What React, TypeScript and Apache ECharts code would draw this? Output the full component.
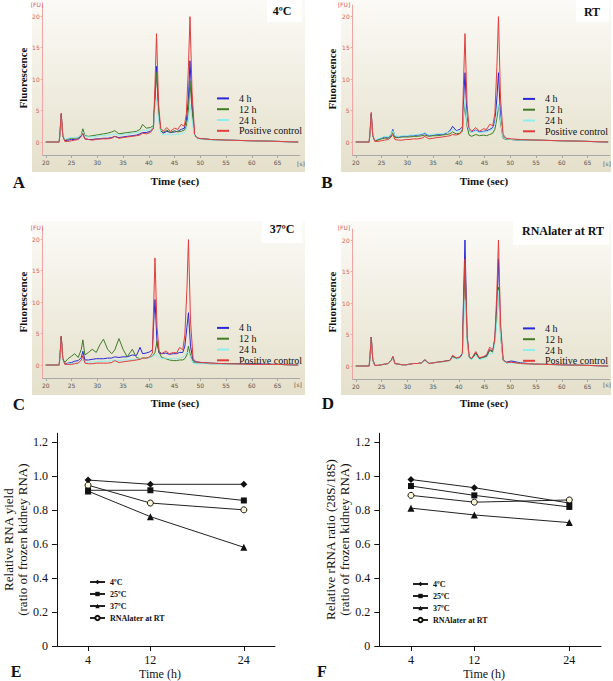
import React, { useEffect, useRef } from 'react';
import * as echarts from 'echarts';

// ---------- Electropherogram data (time in s, fluorescence in FU) ----------
const timeA = [20, 22.6, 22.8, 23.0, 23.3, 23.7, 24.3, 25.0, 25.6, 26.3, 26.9, 27.2, 27.6, 28.3, 29.0, 29.8, 30.5, 31.2, 32.0, 32.8, 33.4, 34.2, 35.0, 35.8, 36.8, 37.6, 38.3, 38.8, 39.5, 40.3, 40.9, 41.2, 41.5, 41.9, 42.3, 42.8, 43.5, 44.2, 45.0, 45.6, 46.3, 46.9, 47.3, 47.7, 48.0, 48.4, 48.9, 49.5, 50.5, 52, 55, 60, 65, 69];
const timeBCD = [20, 22.6, 22.8, 23.0, 23.3, 23.7, 24.3, 25.0, 25.6, 26.3, 26.9, 27.2, 27.6, 28.3, 29.0, 29.8, 30.5, 31.2, 32.0, 32.8, 33.4, 34.2, 35.0, 35.8, 36.8, 37.6, 38.3, 38.8, 39.5, 40.2, 40.7, 40.9, 41.2, 41.6, 42.0, 42.5, 43.3, 44.0, 44.8, 45.4, 46.0, 46.6, 47.0, 47.4, 47.7, 48.1, 48.6, 49.2, 50.2, 52, 55, 60, 65, 69];

// Panel A (4ºC)
const a4h = [0, 0, 1.9, 4.4, 1.0, 0.2, 0.3, 0.4, 0.4, 0.5, 1.0, 1.3, 0.5, 0.4, 0.4, 0.5, 0.5, 0.6, 0.6, 0.7, 0.9, 0.7, 0.8, 0.9, 1.0, 1.1, 1.3, 1.5, 1.5, 1.7, 2.2, 7, 12.0, 5, 1.8, 1.4, 1.7, 1.5, 1.6, 1.7, 2.0, 2.2, 3.5, 7, 12.9, 6, 1.0, 0.6, 0.5, 0.4, 0.3, 0.2, 0.1, 0];
const a12h = [0, 0, 1.8, 4.2, 1.0, 0.3, 0.5, 0.6, 0.6, 0.7, 1.2, 2.1, 1.0, 0.9, 1.0, 1.1, 1.2, 1.3, 1.4, 1.6, 1.8, 1.3, 1.4, 1.5, 1.6, 1.7, 2.0, 2.8, 2.2, 2.3, 2.6, 7, 11.0, 4.5, 1.8, 1.5, 1.9, 1.5, 1.8, 1.6, 1.7, 1.9, 2.5, 5, 9.7, 5, 1.0, 0.6, 0.5, 0.4, 0.3, 0.2, 0.1, 0];
const a24h = [0, 0, 1.6, 4.0, 1.0, 0.4, 0.6, 0.7, 0.7, 0.8, 1.1, 1.6, 0.9, 0.8, 0.8, 0.9, 1.0, 1.0, 1.1, 1.2, 1.3, 1.1, 1.2, 1.3, 1.4, 1.5, 1.6, 1.9, 1.8, 2.0, 2.4, 5, 7.0, 3.5, 1.5, 1.1, 1.3, 1.1, 1.2, 1.2, 1.3, 1.5, 2.0, 3.5, 6.0, 3.5, 0.9, 0.5, 0.4, 0.3, 0.3, 0.2, 0.1, 0];
const aPos = [0, 0, 2.0, 4.6, 1.0, 0.1, 0.1, 0.2, 0.3, 0.4, 0.9, 1.4, 0.5, 0.4, 0.3, 0.4, 0.5, 0.5, 0.5, 0.6, 0.9, 0.6, 0.7, 0.8, 0.9, 1.0, 1.1, 1.4, 1.3, 1.5, 2.2, 9, 17.2, 6, 2.2, 1.7, 2.3, 1.7, 2.2, 2.0, 2.8, 2.5, 4.5, 12, 19.9, 8, 1.2, 0.6, 0.5, 0.4, 0.3, 0.2, 0.1, 0];

// Panel B (RT)
const b4h = [0, 0, 1.9, 4.5, 1.0, 0.2, 0.4, 0.6, 0.8, 0.7, 1.3, 2.0, 0.8, 0.8, 0.9, 0.9, 1.0, 1.0, 1.1, 1.2, 1.4, 1.0, 1.1, 1.2, 1.2, 1.4, 1.8, 2.5, 1.8, 2.0, 2.4, 6, 11.0, 4, 1.8, 1.6, 1.9, 1.6, 1.7, 1.8, 2.0, 2.3, 3.3, 7, 11.0, 4, 0.8, 0.5, 0.4, 0.3, 0.3, 0.2, 0.1, 0];
const b12h = [0, 0, 1.8, 4.3, 1.0, 0.2, 0.3, 0.5, 0.6, 0.6, 1.0, 1.6, 0.7, 0.7, 0.8, 0.8, 0.8, 0.9, 0.9, 1.0, 1.1, 0.9, 1.0, 1.0, 1.1, 1.2, 1.3, 1.6, 1.3, 1.4, 1.7, 4, 6.0, 2.5, 1.1, 0.9, 1.2, 1.0, 1.1, 1.0, 1.2, 1.4, 2.0, 3.8, 5.8, 3, 0.6, 0.4, 0.4, 0.3, 0.3, 0.2, 0.1, 0];
const b24h = [0, 0, 1.7, 4.1, 1.0, 0.3, 0.5, 0.7, 0.9, 0.8, 1.3, 1.8, 1.0, 0.9, 1.0, 1.0, 1.1, 1.1, 1.2, 1.3, 1.5, 1.1, 1.2, 1.3, 1.3, 1.5, 1.6, 2.0, 1.7, 1.8, 2.2, 4.5, 6.8, 3, 1.8, 1.5, 1.8, 1.5, 1.6, 1.6, 1.8, 2.0, 2.8, 4.8, 6.0, 3.5, 0.7, 0.5, 0.4, 0.3, 0.3, 0.2, 0.1, 0];
const bPos = [0, 0, 2.0, 4.7, 1.0, 0.1, 0.1, 0.2, 0.3, 0.4, 0.8, 1.2, 0.4, 0.3, 0.3, 0.4, 0.4, 0.5, 0.5, 0.6, 0.9, 0.5, 0.6, 0.7, 0.8, 0.9, 1.0, 1.2, 1.1, 1.3, 2.0, 9, 17.2, 6, 2.2, 1.7, 2.3, 1.7, 2.1, 2.0, 2.8, 2.6, 4.5, 12, 19.9, 7, 1.2, 0.6, 0.5, 0.4, 0.3, 0.2, 0.1, 0];

// Panel C (37ºC)
const c4h = [0, 0, 1.9, 4.5, 1.0, 0.2, 0.3, 0.4, 0.6, 0.7, 1.2, 2.2, 0.8, 0.8, 0.9, 1.0, 1.0, 1.0, 1.1, 1.1, 1.3, 1.2, 1.3, 1.3, 1.6, 1.5, 2.8, 1.8, 1.9, 2.1, 2.4, 6, 10.4, 3.5, 1.9, 1.8, 1.9, 1.7, 1.8, 1.8, 2.0, 2.0, 3.0, 6, 8.3, 3, 0.7, 0.5, 0.4, 0.3, 0.2, 0.2, 0.1, 0];
const c12h = [0, 0, 1.9, 4.5, 1.0, 0.4, 1.0, 1.4, 1.8, 1.2, 2.5, 4.0, 1.6, 2.0, 2.5, 2.0, 3.2, 4.1, 2.5, 1.8, 2.4, 4.2, 2.5, 1.3, 2.5, 1.2, 1.0, 1.1, 1.1, 1.2, 1.4, 1.6, 2.0, 3.8, 2.0, 1.2, 1.0, 0.8, 0.7, 0.7, 0.8, 0.8, 1.0, 1.6, 3.0, 1.5, 0.4, 0.3, 0.3, 0.2, 0.2, 0.1, 0.1, 0];
const c24h = [0, 0, 1.6, 4.0, 0.8, 0.1, 0.2, 0.2, 0.3, 0.3, 0.5, 0.8, 0.4, 0.4, 0.5, 0.5, 0.6, 0.6, 0.6, 0.7, 0.8, 0.7, 0.8, 0.8, 0.9, 0.9, 1.0, 1.1, 1.1, 1.2, 1.3, 1.5, 1.6, 1.6, 1.2, 1.0, 1.1, 1.0, 1.0, 1.0, 1.1, 1.2, 1.5, 2.0, 2.0, 1.2, 0.3, 0.2, 0.2, 0.2, 0.1, 0.1, 0.1, 0];
const cPos = [0, 0, 2.0, 4.6, 1.0, 0.1, 0.1, 0.1, 0.2, 0.3, 0.8, 1.5, 0.3, 0.2, 0.2, 0.3, 0.3, 0.3, 0.3, 0.4, 0.7, 0.4, 0.5, 0.6, 0.7, 0.8, 0.9, 1.1, 1.1, 1.3, 1.9, 8, 17.0, 6, 2.2, 1.8, 2.2, 1.8, 2.0, 1.9, 2.8, 2.4, 4.8, 12, 19.9, 7, 1.0, 0.5, 0.4, 0.3, 0.2, 0.1, 0.1, 0];

// Panel D (RNAlater at RT)
const d4h = [0, 0, 2.0, 4.6, 1.0, 0.1, 0.1, 0.2, 0.3, 0.4, 0.9, 1.5, 0.4, 0.3, 0.2, 0.2, 0.3, 0.4, 0.4, 0.5, 1.0, 0.4, 0.5, 0.6, 0.7, 0.8, 0.9, 1.6, 1.2, 1.4, 2.0, 10, 20.0, 5, 1.5, 1.1, 2.1, 1.2, 1.4, 1.6, 2.6, 2.3, 4.3, 10, 17.0, 6, 1.0, 0.6, 0.8, 0.5, 0.3, 0.2, 0.1, 0];
const d12h = [0, 0, 1.9, 4.5, 1.0, 0.1, 0.1, 0.2, 0.3, 0.4, 0.9, 1.4, 0.4, 0.3, 0.2, 0.2, 0.3, 0.4, 0.4, 0.5, 0.9, 0.4, 0.5, 0.6, 0.7, 0.8, 0.9, 1.5, 1.2, 1.3, 1.9, 8, 16.2, 4.5, 1.4, 1.1, 2.0, 1.2, 1.4, 1.5, 2.5, 2.2, 4.0, 8, 12.5, 5, 0.9, 0.5, 0.6, 0.4, 0.3, 0.2, 0.1, 0];
const d24h = [0, 0, 1.8, 4.4, 1.0, 0.1, 0.1, 0.2, 0.3, 0.4, 0.8, 1.3, 0.4, 0.3, 0.2, 0.2, 0.3, 0.4, 0.4, 0.5, 0.8, 0.4, 0.5, 0.6, 0.6, 0.7, 0.8, 1.3, 1.1, 1.2, 1.7, 6, 10.5, 4, 1.2, 1.0, 1.7, 1.0, 1.2, 1.3, 2.0, 1.9, 3.5, 7, 12.0, 5, 0.8, 0.5, 0.5, 0.4, 0.3, 0.2, 0.1, 0];
const dPos = [0, 0, 2.0, 4.6, 1.0, 0.1, 0.1, 0.2, 0.3, 0.4, 0.9, 1.5, 0.4, 0.3, 0.2, 0.2, 0.3, 0.4, 0.4, 0.5, 1.0, 0.4, 0.5, 0.6, 0.7, 0.8, 0.9, 1.7, 1.3, 1.4, 2.0, 9, 17.0, 5, 1.5, 1.2, 2.3, 1.3, 1.5, 1.8, 3.0, 2.5, 4.5, 12, 20.0, 7, 1.0, 0.6, 0.6, 0.4, 0.3, 0.2, 0.1, 0];

const traceNames = ['4 h', '12 h', '24 h', 'Positive control'];
const fuTicks = [0, 5, 10, 15, 20];
const secTicks = [20, 25, 30, 35, 40, 45, 50, 55, 60, 65];

// ---------- Line charts (E, F) ----------
const hours = [4, 12, 24];
const groupNames = ['4ºC', '25ºC', '37ºC', 'RNAlater at RT'];
const yield4C = [0.975, 0.95, 0.95];
const yield25C = [0.915, 0.915, 0.855];
const yield37C = [0.91, 0.76, 0.58];
const yieldRNAlater = [0.945, 0.84, 0.80];
const ratio4C = [0.978, 0.93, 0.84];
const ratio25C = [0.94, 0.885, 0.817];
const ratio37C = [0.81, 0.77, 0.725];
const ratioRNAlater = [0.885, 0.845, 0.858];
const ratioTicks = [0, 0.2, 0.4, 0.6, 0.8, 1.0, 1.2];

const COL = { h4: '#2828d8', h12: '#3f7d24', h24: '#8ceeee', pos: '#e23c3c' };
const SERIF = '"Liberation Serif", "Times New Roman", serif';

function pairs(t: number[], v: number[]) {
  return t.map((x, i) => [x, v[i]]);
}

export default function App() {
  const ref = useRef<HTMLDivElement>(null);

  useEffect(() => {
    if (!ref.current) return;
    const chart = echarts.init(ref.current, undefined, { renderer: 'svg' });

    const panels = [
      { grid: { left: 42.7, top: 5, width: 257, height: 150 }, t: timeA, v: [a4h, a12h, a24h, aPos], leg: { left: 212, top: 88 } },
      { grid: { left: 352.7, top: 5, width: 257, height: 150 }, t: timeBCD, v: [b4h, b12h, b24h, bPos], leg: { left: 518, top: 88.5 } },
      { grid: { left: 42.7, top: 228, width: 257, height: 150 }, t: timeBCD, v: [c4h, c12h, c24h, cPos], leg: { left: 212, top: 317.5 } },
      { grid: { left: 352.7, top: 229, width: 257, height: 150 }, t: timeBCD, v: [d4h, d12h, d24h, dPos], leg: { left: 518, top: 318 } },
    ];
    const colors = [COL.h4, COL.h12, COL.h24, COL.pos];

    const grids: any[] = [];
    const xAxes: any[] = [];
    const yAxes: any[] = [];
    const series: any[] = [];
    const legends: any[] = [];

    panels.forEach((p, pi) => {
      grids.push(p.grid);
      xAxes.push({
        type: 'value', gridIndex: pi, min: 19.4, max: 69.3,
        axisLine: { show: true, onZero: false, lineStyle: { color: '#a8a8a8', width: 1 } },
        axisTick: { show: true, length: 3, lineStyle: { color: '#a8a8a8' }, customValues: secTicks },
        axisLabel: { fontSize: 6, color: '#555', margin: 4, fontFamily: 'DejaVu Sans', customValues: secTicks },
        splitLine: { show: false },
      });
      yAxes.push({
        type: 'value', gridIndex: pi, min: -2.06, max: 21.75,
        axisLine: { show: true, onZero: false, lineStyle: { color: '#f0a4a4', width: 1 } },
        axisTick: { show: true, length: 2, lineStyle: { color: '#f0a4a4' }, customValues: fuTicks },
        axisLabel: { fontSize: 6, color: '#d8605c', margin: 3, fontFamily: 'DejaVu Sans', customValues: fuTicks },
        splitLine: { show: false },
      });
      // draw order: 24 h, 12 h, 4 h, control on top
      [2, 1, 0, 3].forEach((k) => {
        series.push({
          type: 'line', name: traceNames[k], xAxisIndex: pi, yAxisIndex: pi,
          data: pairs(p.t, p.v[k]), showSymbol: false, symbol: 'none',
          lineStyle: { color: colors[k], width: 1 }, itemStyle: { color: colors[k] },
          z: 3 + k,
        });
      });
      legends.push({
        orient: 'vertical', left: p.leg.left, top: p.leg.top,
        data: traceNames, icon: 'rect', itemWidth: 12, itemHeight: 2, itemGap: 0,
        selectedMode: false,
        textStyle: { fontFamily: SERIF, fontSize: 10, color: '#111', lineHeight: 10.8, padding: [0, 0, 0, 5] },
      });
    });

    const linePanels = [
      { grid: { left: 52.3, top: 433.25, width: 222.7, height: 213.75 }, vals: [yield4C, yield25C, yield37C, yieldRNAlater], name: 'Relative RNA yield\n(ratio of frozen kidney RNA)', leg: { left: 84, top: 571 } },
      { grid: { left: 379.3, top: 433.25, width: 221.7, height: 213.75 }, vals: [ratio4C, ratio25C, ratio37C, ratioRNAlater], name: 'Relative rRNA ratio (28S/18S)\n(ratio of frozen kidney RNA)', leg: { left: 407, top: 573 } },
    ];
    const symbols = ['diamond', 'rect', 'triangle', 'circle'];
    const symSizes = [7, 6, 7, 6];

    linePanels.forEach((p, j) => {
      const gi = 4 + j;
      grids.push(p.grid);
      xAxes.push({
        type: 'value', gridIndex: gi, min: 0, max: 28,
        name: 'Time (h)', nameLocation: 'middle', nameGap: 22,
        nameTextStyle: { fontFamily: SERIF, fontSize: 12, color: '#111', padding: [0, 12, 0, 0] },
        axisLine: { show: true, onZero: false, lineStyle: { color: '#111', width: 1 } },
        axisTick: { show: true, length: 5, lineStyle: { color: '#111' }, customValues: hours },
        axisLabel: { fontFamily: SERIF, fontSize: 12, color: '#111', margin: 8, customValues: hours },
        splitLine: { show: false },
      });
      yAxes.push({
        type: 'value', gridIndex: gi, min: 0, max: 1.25,
        name: p.name, nameLocation: 'middle', nameGap: 25, nameRotate: 90,
        nameTextStyle: { fontFamily: SERIF, fontSize: 13, color: '#111', lineHeight: 14 },
        axisLine: { show: true, onZero: false, lineStyle: { color: '#111', width: 1 } },
        axisTick: { show: true, length: 5, lineStyle: { color: '#111' }, customValues: ratioTicks },
        axisLabel: {
          fontFamily: SERIF, fontSize: 12, color: '#111', margin: 9, customValues: ratioTicks,
          formatter: (v: number) => (v === 0 ? '0' : v.toFixed(1)),
        },
        splitLine: { show: false },
      });
      p.vals.forEach((vals, k) => {
        series.push({
          type: 'line', name: groupNames[k], xAxisIndex: gi, yAxisIndex: gi,
          data: pairs(hours, vals), symbol: symbols[k], symbolSize: symSizes[k], showSymbol: true,
          lineStyle: { color: '#222', width: 1 },
          itemStyle: k === 3 ? { color: '#fdf9d8', borderColor: '#111', borderWidth: 1 } : { color: '#111' },
          z: 3 + k,
        });
      });
      legends.push({
        orient: 'vertical', left: p.leg.left, top: p.leg.top,
        data: groupNames, itemWidth: 15, itemHeight: 5.5, itemGap: 0, selectedMode: false,
        textStyle: { fontFamily: SERIF, fontSize: 8, fontWeight: 'bold', color: '#111', lineHeight: 12 },
      });
    });

    const bg = () => new echarts.graphic.LinearGradient(0, 0, 0, 1, [
      { offset: 0, color: '#fbfaf6' },
      { offset: 1, color: '#e5e0cb' },
    ]);
    const rect = (x: number, y: number, w: number, h: number, fill: any, z: number) => ({
      type: 'rect', shape: { x, y, width: w, height: h }, style: { fill }, z, silent: true,
    });
    const txt = (text: string, x: number, y: number, font: string, fill = '#111', rotation = 0) => ({
      type: 'text', x, y, rotation, z: 50, silent: true,
      style: { text, x: 0, y: 0, font, fill, textAlign: 'center', textVerticalAlign: 'middle' },
    });
    const boldS = (s: number) => `bold ${s}px ${SERIF}`;
    const tiny = '6px "DejaVu Sans"';

    const graphics: any[] = [
      rect(32, 0, 273, 172, bg(), -5),
      rect(341, 0, 270, 172, bg(), -5),
      rect(32, 221, 273, 174, bg(), -5),
      rect(341, 221, 270, 174, bg(), -5),
      rect(267, 0, 35, 22, '#ffffff', -4),
      rect(576, 0, 33, 22, '#ffffff', -4),
      rect(262, 221, 40, 22, '#ffffff', -4),
      rect(513, 221, 96, 24, '#ffffff', -4),
      txt('4ºC', 282, 11, boldS(12)),
      txt('RT', 592, 12, boldS(12)),
      txt('37ºC', 282, 229, boldS(12)),
      txt('RNAlater at RT', 563, 231, boldS(12)),
      txt('Fluorescence', 23, 78, boldS(11), '#111', Math.PI / 2),
      txt('Fluorescence', 332, 79, boldS(11), '#111', Math.PI / 2),
      txt('Fluorescence', 23, 302, boldS(11), '#111', Math.PI / 2),
      txt('Fluorescence', 332, 302, boldS(11), '#111', Math.PI / 2),
      txt('Time (sec)', 175, 181, boldS(11)),
      txt('Time (sec)', 484, 181, boldS(11)),
      txt('Time (sec)', 175, 403, boldS(11)),
      txt('Time (sec)', 484, 403, boldS(11)),
      txt('[FU]', 37, 4, tiny, '#d8605c'),
      txt('[FU]', 344, 4, tiny, '#d8605c'),
      txt('[FU]', 37, 227, tiny, '#d8605c'),
      txt('[FU]', 344, 227, tiny, '#d8605c'),
      txt('[s]', 301, 163, tiny, '#555'),
      txt('[s]', 607, 163, tiny, '#555'),
      txt('[s]', 298, 384, tiny, '#555'),
      txt('[s]', 607, 384, tiny, '#555'),
      txt('A', 19, 182, boldS(17)),
      txt('B', 327, 182, boldS(17)),
      txt('C', 19, 404, boldS(17)),
      txt('D', 328, 403, boldS(17)),
      txt('E', 16, 671, boldS(16)),
      txt('F', 322, 671, boldS(16)),
    ];

    chart.setOption({
      animation: false,
      backgroundColor: '#ffffff',
      grid: grids,
      xAxis: xAxes,
      yAxis: yAxes,
      legend: legends,
      series,
      graphic: { elements: graphics },
    });

    return () => chart.dispose();
  }, []);

  return (
    <div
      ref={ref}
      style={{ position: 'fixed', left: 0, top: 0, width: 613, height: 681, background: '#fff' }}
    />
  );
}
